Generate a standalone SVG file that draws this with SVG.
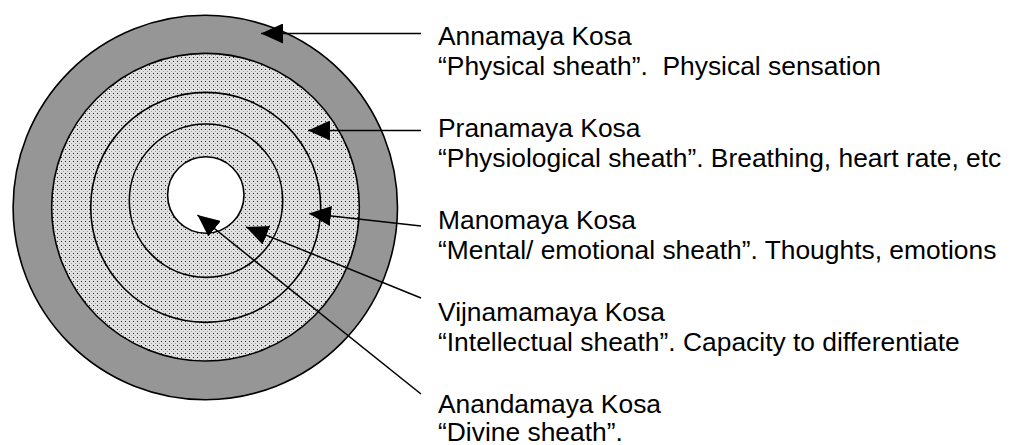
<svg xmlns="http://www.w3.org/2000/svg" width="1013" height="445" viewBox="0 0 1013 445">
  <style>
    .ring { stroke: #000; stroke-width: 1.6; }
    .lbl { font-family: "Liberation Sans", Arial, sans-serif; font-size: 26.4px; fill: #000; white-space: pre; }
    .conn { stroke: #000; stroke-width: 1.5; fill: none; marker-end: url(#arrow); }
  </style>
  <defs>
    <pattern id="dots" width="4" height="4" patternUnits="userSpaceOnUse">
      <rect width="4" height="4" fill="#e2e2e2"/>
      <rect x="1" y="1" width="1" height="1" fill="#1a1a1a"/>
      <rect x="3" y="3" width="1" height="1" fill="#999"/>
    </pattern>
    <marker id="arrow" markerUnits="userSpaceOnUse" markerWidth="22" markerHeight="20" viewBox="0 0 22 20" refX="22" refY="10" orient="auto">
      <path d="M0,0 L22,10 L0,20 Z" fill="#000"/>
    </marker>
  </defs>
  <rect width="1013" height="445" fill="#fff"/>

  <g id="annamaya">
    <circle class="ring" cx="205.3" cy="207.5" r="192.2" fill="#969696"/>
  </g>
  <g id="pranamaya">
    <circle class="ring" cx="205.5" cy="207.2" r="153.8" fill="url(#dots)"/>
  </g>
  <g id="manomaya">
    <circle class="ring" cx="205.7" cy="207.4" r="115" fill="none"/>
  </g>
  <g id="vijnamamaya">
    <circle class="ring" cx="206" cy="200.7" r="76.7" fill="none"/>
  </g>
  <g id="anandamaya">
    <circle class="ring" cx="205.8" cy="195" r="38.2" fill="#fff"/>
  </g>

  <g id="connectors">
    <path class="conn" d="M421,33.5 L261,33.5"/>
    <path class="conn" d="M421,130.5 L308,130.5"/>
    <path class="conn" d="M421,226 L309,213.5"/>
    <path class="conn" d="M421,298 L246,227"/>
    <path class="conn" d="M421,394 L197.5,215"/>
  </g>

  <g id="label-annamaya">
    <text class="lbl" x="438" y="45">Annamaya Kosa</text>
    <text class="lbl" x="438" y="75">“Physical sheath”.  Physical sensation</text>
  </g>
  <g id="label-pranamaya">
    <text class="lbl" x="438" y="137">Pranamaya Kosa</text>
    <text class="lbl" x="438" y="167">“Physiological sheath”. Breathing, heart rate, etc</text>
  </g>
  <g id="label-manomaya">
    <text class="lbl" x="438" y="229">Manomaya Kosa</text>
    <text class="lbl" x="438" y="259">“Mental/ emotional sheath”. Thoughts, emotions</text>
  </g>
  <g id="label-vijnamamaya">
    <text class="lbl" x="438" y="321">Vijnamamaya Kosa</text>
    <text class="lbl" x="438" y="351">“Intellectual sheath”. Capacity to differentiate</text>
  </g>
  <g id="label-anandamaya">
    <text class="lbl" x="438" y="413">Anandamaya Kosa</text>
    <text class="lbl" x="438" y="441">“Divine sheath”.</text>
  </g>
</svg>
